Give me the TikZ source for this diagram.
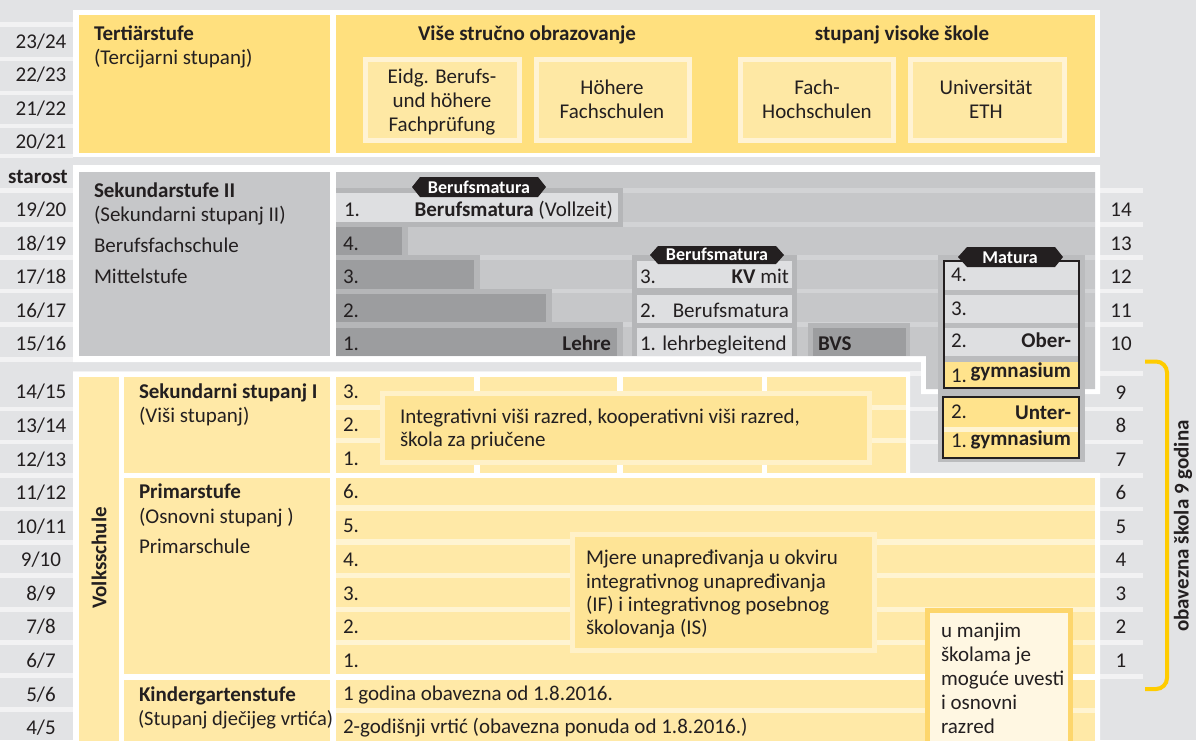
\documentclass[tikz,border=0pt]{standalone}
\usepackage{fontspec}
\setmainfont{Carlito}
\definecolor{bg}{HTML}{E2E3E5}
\definecolor{stripe}{HTML}{F2F2F3}
\definecolor{ink}{HTML}{231F20}
\definecolor{ytert}{HTML}{FFE07E}
\definecolor{yboxin}{HTML}{FEE8A4}
\definecolor{yboxbd}{HTML}{FFF3D4}
\definecolor{yvs}{HTML}{FFE9A7}
\definecolor{yvssep}{HTML}{FFF4D2}
\definecolor{yov}{HTML}{FEE496}
\definecolor{yovbd}{HTML}{FFF1C8}
\definecolor{gpanel}{HTML}{C6C7C9}
\definecolor{gsep}{HTML}{D2D3D5}
\definecolor{glight}{HTML}{DEDFE1}
\definecolor{ghalo}{HTML}{B5B6B8}
\definecolor{gdark}{HTML}{9C9D9F}
\definecolor{gcol}{HTML}{BBBCBE}
\definecolor{bracecol}{HTML}{FFCC00}
\definecolor{umbd}{HTML}{FDD66C}
\definecolor{umin}{HTML}{FFF7E2}
\definecolor{gymy}{HTML}{FFE38C}
\newcommand\myfs{\fontsize{21}{24}\selectfont}
\newcommand\tagfs{\fontsize{18}{20}\selectfont\bfseries}
\tikzset{
  lbl/.style={inner sep=0pt, outer sep=0pt, text=ink, font=\myfs, anchor=base west},
  lblb/.style={lbl, font=\myfs\bfseries},
  lblc/.style={lbl, anchor=base},
  lblbc/.style={lblb, anchor=base},
  lblr/.style={lbl, anchor=base east},
  lblbr/.style={lblb, anchor=base east},
  tagtxt/.style={inner sep=0pt, text=white, font=\tagfs, anchor=base},
  tagshape/.style={fill=ink},
}
\begin{document}
\begin{tikzpicture}[x=1pt,y=-1pt]
\useasboundingbox (0,0) rectangle (1196,740);
\clip (0,0) rectangle (1196,740);
\fill[bg] (0,0) rectangle (1196,740);
% stripes
\foreach \y in {24.5,59,93,126,156,190.5,224.5,257.5,291,324.5,359.5,409,442,475.5,509,542.5,575.5,609.5,642.5,675.5,709.5}
  \fill[stripe] (0,\y-2.3) rectangle (73,\y+2.3);
\foreach \y in {190.5,224.5,257.5,291,324.5,373.5,409,442,475.5,509,542.5,575.5,609.5,642.5,676.5}
  \fill[stripe] (73,\y-2.3) rectangle (1143,\y+2.3);

% ---------- Tertiary ----------
\fill[white] (73,10) rectangle (1100,157);
\fill[ytert] (79,15) rectangle (330,153);
\fill[ytert] (336,15) rectangle (1095,153);
\foreach \a/\b in {363/522,534/692,738/896,908/1067}{
  \fill[yboxbd] (\a,57) rectangle (\b,143);
  \fill[yboxin] (\a+5,62) rectangle (\b-5,138);
}
\node[lblb] (tert) at (94,40) {Tertiärstufe};
\node[lbl] (tertb) at (94,64) {(Tercijarni stupanj)};
\node[lblbc] (hvs) at (527,40) {Više stručno obrazovanje};
\node[lblbc] (hsv) at (902,40) {stupanj visoke škole};
\node[lblc] (e1) at (442,83) {Eidg. Berufs-};
\node[lblc] (e2) at (442,107) {und höhere};
\node[lblc] (e3) at (442,131) {Fachprüfung};
\node[lblc] (h1) at (612,94) {Höhere};
\node[lblc] (h2) at (612,118) {Fachschulen};
\node[lblc] (f1) at (817,94) {Fach-};
\node[lblc] (f2) at (817,118) {Hochschulen};
\node[lblc] (u1) at (986,94) {Universität};
\node[lblc] (u2) at (986,118) {ETH};

% ---------- Sekundarstufe II ----------
\fill[white] (73,165) -- (1100,165) -- (1100,394) -- (921,394) -- (921,362) -- (73,362) -- cycle;
\fill[gpanel] (79,172) rectangle (330,356);
\fill[gpanel] (336,172) -- (1095,172) -- (1095,389) -- (926,389) -- (926,356) -- (336,356) -- cycle;
\foreach \y in {190.5,224.5,257.5,291,324.5}
  \fill[gsep] (336,\y-2.3) rectangle (1095,\y+2.3);
\fill[ghalo] (336,188) rectangle (623,227);
\fill[glight] (336,193) rectangle (618,222);
\fill[ghalo] (336,222) rectangle (408,260);
\fill[gdark] (336,227) rectangle (402,255);
\fill[ghalo] (336,255) rectangle (480,294);
\fill[gdark] (336,260) rectangle (474,289);
\fill[ghalo] (336,289) rectangle (552,327);
\fill[gdark] (336,294) rectangle (546,322);
\fill[ghalo] (336,322) rectangle (623,356);
\fill[gdark] (336,328) rectangle (617,356);
% KV column
\fill[ghalo] (632,255) rectangle (797,356);
\fill[glight] (637,261) rectangle (792,288);
\fill[glight] (637,295) rectangle (792,323);
\fill[glight] (637,328) rectangle (792,356);
% BVS
\fill[ghalo] (808,323) rectangle (910,356);
\fill[gdark] (813,328) rectangle (906,356);
% Gymnasium column
\fill[gcol] (938,255) rectangle (1085,462);
\fill[glight] (944,261) rectangle (1079,290);
\fill[glight] (944,295) rectangle (1079,323);
\fill[glight] (944,328) rectangle (1079,356);
\fill[gymy] (944,362) rectangle (1079,388);
\draw[ink, line width=2.6] (944,261) rectangle (1079,388);
\fill[yvssep] (943,397) rectangle (1079,458);
\fill[gymy] (943,397) rectangle (1079,427);
\fill[gymy] (943,432) rectangle (1079,458);
\draw[ink, line width=2.6] (943,397) rectangle (1079,458);
% tags
\fill[tagshape] (412,187) -- (420,177) -- (538,177) -- (546,187) -- (538,197) -- (420,197) -- cycle;
\node[tagtxt] (tag1) at (479,193) {Berufsmatura};
\fill[tagshape] (650,255) -- (658,246) -- (776,246) -- (784,255) -- (776,264) -- (658,264) -- cycle;
\node[tagtxt] (tag2) at (717,260) {Berufsmatura};
\fill[tagshape] (958,257) -- (967,247) -- (1055,247) -- (1063,257) -- (1055,267) -- (967,267) -- cycle;
\node[tagtxt] (tag3) at (1010,263) {Matura};
% Sek II texts
\node[lblb] (sek2) at (94,197) {Sekundarstufe II};
\node[lbl] (sek2b) at (94,221) {(Sekundarni stupanj II)};
\node[lbl] (bfs) at (94,252) {Berufsfachschule};
\node[lbl] (mst) at (94,283) {Mittelstufe};
\node[lbl] (bm1) at (344,216) {1.};
\node[lblr] (bm1t) at (613,216) {\textbf{Berufsmatura} (Vollzeit)};
\node[lbl] (l4) at (343,250) {4.};
\node[lbl] (l3) at (343,283) {3.};
\node[lbl] (l2) at (343,317) {2.};
\node[lbl] (l1) at (343,350) {1.};
\node[lblbr] (lehre) at (611,350) {Lehre};
\node[lbl] (kv3) at (640,283) {3.};
\node[lblr] (kv3t) at (789,283) {\textbf{KV} mit};
\node[lbl] (kv2) at (640,317) {2.};
\node[lblr] (kv2t) at (789,317) {Berufsmatura};
\node[lbl] (kv1) at (640,350) {1. lehrbegleitend};
\node[lblb] (bvs) at (818,350) {BVS};
\node[lbl] (g4) at (951,281) {4.};
\node[lbl] (g3) at (951,315) {3.};
\node[lbl] (g2) at (951,347) {2.};
\node[lblbr] (ober) at (1071,347) {Ober-};
\node[lbl] (g1) at (951,382) {1.};
\node[lblbr] (gym1) at (1071,377) {gymnasium};
\node[lbl] (ug2) at (951,418) {2.};
\node[lblbr] (unter) at (1071,419) {Unter-};
\node[lbl] (ug1) at (951,447) {1.};
\node[lblbr] (gym2) at (1071,445) {gymnasium};

% ---------- Volksschule ----------
\fill[white] (73,372) -- (910,372) -- (910,473) -- (1100,473) -- (1100,745) -- (73,745) -- cycle;
\fill[yvs] (79,377) rectangle (119,745);
\fill[yvs] (124,377) rectangle (330,473);
\fill[yvs] (124,478) rectangle (330,674);
\fill[yvs] (124,680) rectangle (330,745);
\foreach \a/\b in {336/474,480/617,623/762,767/906}{
  \fill[yvssep] (\a,377) rectangle (\b,473);
  \fill[yvs] (\a,377) rectangle (\b,405);
  \fill[yvs] (\a,410) rectangle (\b,438);
  \fill[yvs] (\a,443) rectangle (\b,473);
}
\fill[yvssep] (336,478) rectangle (1095,674);
\foreach \p/\q in {478/505,511/539,545/573,578/607,612/640,645/674}
  \fill[yvs] (336,\p) rectangle (1095,\q);
\fill[yvssep] (336,680) rectangle (1095,745);
\fill[yvs] (336,680) rectangle (1095,708);
\fill[yvs] (336,713) rectangle (1095,745);
% overlays
\fill[yovbd] (380,391) rectangle (872,465);
\fill[yov] (385,396) rectangle (867,460);
\fill[yovbd] (570,532) rectangle (877,653);
\fill[yov] (575,537) rectangle (872,648);
\fill[umbd] (925,608) rectangle (1073,750);
\fill[umin] (930,613) rectangle (1068,750);
% texts
\node[lblb, rotate=90, anchor=center] (vs) at (99,558) {Volksschule};
\node[lblb] (sek1) at (139,398) {Sekundarni stupanj I};
\node[lbl] (sek1b) at (139,422) {(Viši stupanj)};
\node[lblb] (prim) at (139,498) {Primarstufe};
\node[lbl] (primb) at (139,523) {(Osnovni stupanj )};
\node[lbl] (prims) at (139,553) {Primarschule};
\node[lblb] (kind) at (139,701) {Kindergartenstufe};
\node[lbl, font=\fontsize{20.5}{24}\selectfont] (kindb) at (138,725) {(Stupanj dječijeg vrtića)};
\node[lbl] (s3) at (343,398) {3.};
\node[lbl] (s2) at (343,431) {2.};
\node[lbl] (s1) at (343,465) {1.};
\node[lbl] (int1) at (400,423) {Integrativni viši razred, kooperativni viši razred,};
\node[lbl] (int2) at (400,446) {škola za priučene};
\node[lbl] (p6) at (343,498) {6.};
\node[lbl] (p5) at (343,532) {5.};
\node[lbl] (p4) at (343,566) {4.};
\node[lbl] (p3) at (343,600) {3.};
\node[lbl] (p2) at (343,633) {2.};
\node[lbl] (p1) at (343,667) {1.};
\node[lbl] (m1) at (586,564) {Mjere unapređivanja u okviru};
\node[lbl] (m2) at (586,588) {integrativnog unapređivanja};
\node[lbl] (m3) at (586,611) {(IF) i integrativnog posebnog};
\node[lbl] (m4) at (586,634) {školovanja (IS)};
\node[lbl] (um1) at (941,637) {u manjim};
\node[lbl] (um2) at (941,661) {školama je};
\node[lbl] (um3) at (941,685) {moguće uvesti};
\node[lbl] (um4) at (941,709) {i osnovni};
\node[lbl] (um5) at (941,733) {razred};
\node[lbl] (k1) at (343,700) {1 godina obavezna od 1.8.2016.};
\node[lbl] (k2) at (343,733) {2-godišnji vrtić (obavezna ponuda od 1.8.2016.)};

% ---------- ages ----------
\node[lblbc] (star) at (38,183) {starost};
\foreach \t/\yy [count=\i] in {{23/24}/48,{22/23}/81,{21/22}/115,{20/21}/148,{19/20}/216,{18/19}/250,{17/18}/283,{16/17}/317,{15/16}/350,{14/15}/398,{13/14}/432,{12/13}/466,{11/12}/499,{10/11}/533,{9/10}/566,{8/9}/600,{7/8}/633,{6/7}/667,{5/6}/701,{4/5}/734}
  \node[lblc] (age\i) at (41,\yy) {\t};
\foreach \n/\yy in {14/216,13/250,12/283,11/317,10/350,9/399,8/432,7/466,6/499,5/533,4/566,3/600,2/633,1/667}
  \node[lblc] (yr\n) at (1121,\yy) {\n};

% brace and label
\draw[bracecol, line width=4, rounded corners=11] (1145,361.5) -- (1167,361.5) -- (1167,689) -- (1145,689);
\node[lblb, rotate=90, anchor=center] (obv) at (1183,526) {obavezna škola 9 godina};
\end{tikzpicture}
\end{document}
